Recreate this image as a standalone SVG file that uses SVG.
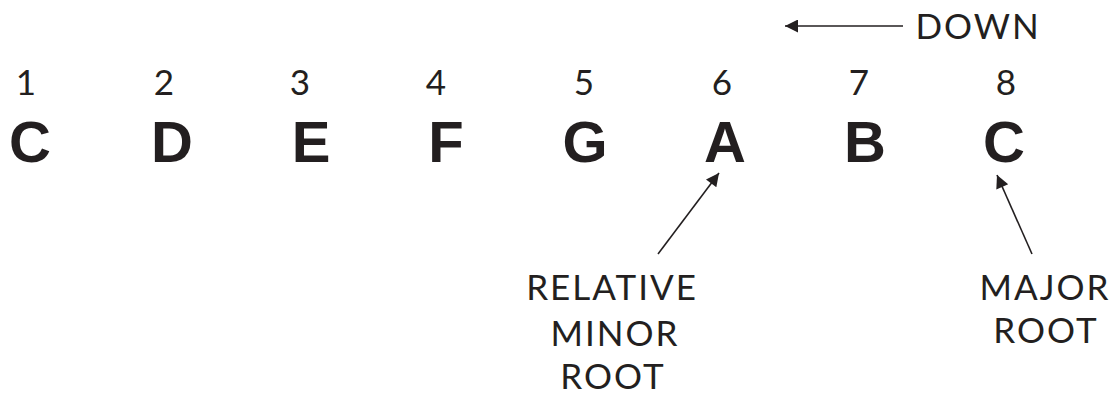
<svg xmlns="http://www.w3.org/2000/svg" width="1119" height="394" viewBox="0 0 1119 394">
<style>
.num{font-family:"Lato","DejaVu Sans",sans-serif;font-weight:400;font-size:35px;fill:#231f20;text-anchor:middle}
.note{font-family:"Liberation Sans",Arial,sans-serif;font-weight:bold;font-size:58px;fill:#231f20;text-anchor:middle}
.lbl{font-family:"Lato","DejaVu Sans",sans-serif;font-weight:400;font-size:35px;fill:#231f20;text-anchor:middle;letter-spacing:2px}
.ln{stroke:#231f20;stroke-width:1.6;fill:none}
</style>
<defs>
<marker id="ah2" viewBox="0 0 10 10" refX="10" refY="5" markerWidth="17" markerHeight="13" markerUnits="userSpaceOnUse" orient="auto">
<path d="M0,0 L10,5 L0,10 z" fill="#231f20"/>
</marker>
</defs>
<rect width="1119" height="394" fill="#fff"/>
<g id="n1"><text class="num" x="26" y="95">1</text><text class="note" x="30" y="162">C</text></g>
<g id="n2"><text class="num" x="164" y="95">2</text><text class="note" x="172" y="162">D</text></g>
<g id="n3"><text class="num" x="300" y="95">3</text><text class="note" x="311" y="162">E</text></g>
<g id="n4"><text class="num" x="436" y="95">4</text><text class="note" x="446" y="162">F</text></g>
<g id="n5"><text class="num" x="584" y="95">5</text><text class="note" x="585" y="162">G</text></g>
<g id="n6"><text class="num" x="722" y="95">6</text><text class="note" x="725" y="162">A</text></g>
<g id="n7"><text class="num" x="859" y="95">7</text><text class="note" x="865" y="162">B</text></g>
<g id="n8"><text class="num" x="1006" y="95">8</text><text class="note" x="1004" y="162">C</text></g>
<g id="down"><text class="lbl" x="978" y="39">DOWN</text></g>
<g id="relminor">
<text class="lbl" x="612" y="300">RELATIVE</text>
<text class="lbl" x="615" y="346">MINOR</text>
<text class="lbl" x="613" y="389">ROOT</text>
</g>
<g id="majroot">
<text class="lbl" x="1045" y="300">MAJOR</text>
<text class="lbl" x="1046" y="343">ROOT</text>
</g>
<g id="connectors">
<line class="ln" x1="903" y1="26" x2="785" y2="26" marker-end="url(#ah2)"/>
<line class="ln" x1="658" y1="254" x2="719" y2="173" marker-end="url(#ah2)"/>
<line class="ln" x1="1032" y1="254" x2="997" y2="175" marker-end="url(#ah2)"/>
</g>
</svg>
